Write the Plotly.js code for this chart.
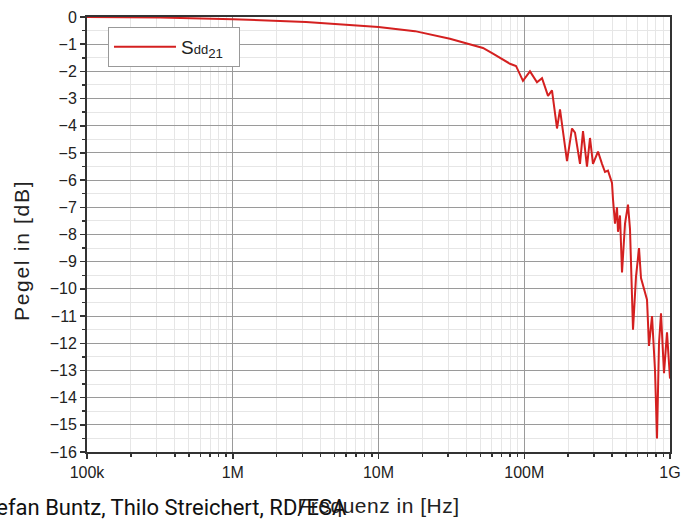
<!DOCTYPE html>
<html>
<head>
<meta charset="utf-8">
<script src="https://cdn.plot.ly/plotly-3.0.1.min.js"></script>
<style>html,body{margin:0;padding:0;background:#fff;}#chart{width:684px;height:526px;}</style>
</head>
<body>
<div id="chart"></div>
<script>
// Frequency in Hz
const freqHz = [1e5, 3.17e5, 1.0e6, 3.18e6, 1.0e7, 1.78e7, 3.09e7, 5.21e7, 6.10e7, 6.82e7, 7.98e7, 8.78e7, 9.80e7,
  1.095e8, 1.223e8, 1.324e8, 1.456e8, 1.550e8, 1.678e8, 1.759e8, 1.844e8, 1.965e8, 2.126e8, 2.229e8, 2.413e8,
  2.530e8, 2.694e8, 2.825e8, 2.962e8, 3.207e8, 3.416e8, 3.581e8, 3.754e8, 4.000e8, 4.063e8, 4.194e8, 4.329e8,
  4.398e8, 4.539e8, 4.685e8, 4.913e8, 5.150e8, 5.316e8, 5.574e8, 5.844e8, 6.130e8, 6.325e8, 6.529e8, 6.739e8,
  6.955e8, 7.178e8, 7.527e8, 7.892e8, 8.145e8, 8.405e8, 8.675e8, 9.095e8, 9.537e8, 1e9];
// Level in dB
const pegelDb = [0.0, -0.02, -0.08, -0.18, -0.37, -0.52, -0.8, -1.14, -1.35, -1.5, -1.72, -1.8, -2.35,
  -2.0, -2.4, -2.25, -2.9, -2.7, -4.1, -3.4, -4.3, -5.3, -4.1, -4.25, -5.4,
  -4.2, -5.5, -4.45, -5.4, -4.95, -5.4, -5.7, -5.65, -6.1, -6.7, -7.6, -7.0,
  -7.9, -7.3, -9.4, -7.6, -6.9, -7.8, -11.5, -9.55, -8.5, -9.6, -9.9, -10.15,
  -10.4, -12.1, -11.0, -13.0, -15.5, -12.0, -10.9, -13.1, -11.6, -13.3];
const xTickVals = [1e5, 1e6, 1e7, 1e8, 1e9];
const xTickText = ["100k", "1M", "10M", "100M", "1G"];
const yTickVals = [0, -1, -2, -3, -4, -5, -6, -7, -8, -9, -10, -11, -12, -13, -14, -15, -16];

const trace = {
  x: freqHz, y: pegelDb, type: 'scatter', mode: 'lines',
  name: "S<span style='font-size:13px'>dd</span><sub>21</sub>  ",
  line: {color: '#d42020', width: 2}
};

const layout = {
  width: 684, height: 526,
  margin: {l: 87, r: 14, t: 17, b: 74},
  paper_bgcolor: '#fff', plot_bgcolor: '#fff',
  font: {family: 'Liberation Sans, Arial, sans-serif', color: '#222', size: 16},
  showlegend: true,
  legend: {x: 0.036, y: 0.977, xanchor: 'left', yanchor: 'top', bgcolor: '#fff',
    bordercolor: '#999', borderwidth: 1, itemwidth: 62, font: {size: 19, color: '#222'}},
  xaxis: {
    type: 'log', range: [5, 9],
    tickvals: xTickVals, ticktext: xTickText,
    ticks: 'outside', ticklen: 5, tickwidth: 1.5, tickcolor: '#333',
    showgrid: true, gridcolor: '#9a9a9a', gridwidth: 1,
    showline: true, linecolor: '#333', linewidth: 2, mirror: true,
    zeroline: false,
    minor: {ticks: 'outside', ticklen: 3, tickcolor: '#333', showgrid: true, gridcolor: '#e6e6e6', dtick: 'D1'},
    title: {text: "<span style='letter-spacing:0.5px'>Frequenz in [Hz]</span>", font: {size: 21, color: '#222'}, standoff: 18},
    tickfont: {size: 16, color: '#222'}
  },
  yaxis: {
    range: [-16, 0], tickvals: yTickVals,
    ticks: 'outside', ticklen: 5, tickwidth: 1.5, tickcolor: '#333',
    showgrid: true, gridcolor: '#9a9a9a', gridwidth: 1,
    showline: true, linecolor: '#333', linewidth: 2, mirror: true,
    zeroline: false,
    minor: {ticks: 'outside', ticklen: 3, tickcolor: '#333', showgrid: true, gridcolor: '#e6e6e6', dtick: 0.5},
    tickfont: {size: 16, color: '#222'}
  },
  annotations: [{
    text: "<span style='letter-spacing:1.7px'>Pegel in [dB]</span>",
    xref: 'paper', yref: 'paper', x: -0.1115, y: 0.4644, xanchor: 'center', yanchor: 'middle',
    textangle: -90, showarrow: false, font: {size: 21, color: '#222'}
  }, {
    text: 'Stefan Buntz, Thilo Streichert, RD/ESA',
    xref: 'paper', yref: 'paper', x: -0.1938, y: -0.1287, xanchor: 'left', yanchor: 'middle',
    showarrow: false, font: {family: 'Roboto, sans-serif', size: 22, color: '#111'}
  }]
};

Plotly.newPlot('chart', [trace], layout, {displayModeBar: false, staticPlot: true});
</script>
</body>
</html>
